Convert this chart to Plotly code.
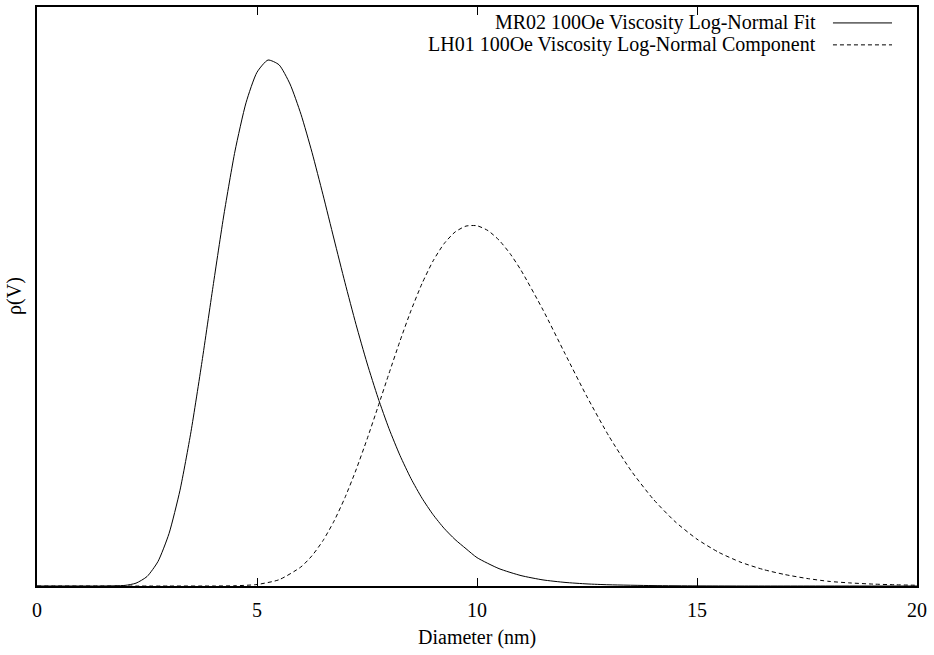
import plotly.graph_objects as go

# --- data (arbitrary units, y axis 0..1) ---
series_names = ["MR02 100Oe Viscosity Log-Normal Fit",
                "LH01 100Oe Viscosity Log-Normal Component"]

mr02_d = [0.0, 1.0, 1.5, 2.0, 2.25, 2.5, 2.75, 3.0, 3.25, 3.5, 3.75, 4.0, 4.25, 4.5, 4.75,
          5.0, 5.25, 5.5, 5.75, 6.0, 6.25, 6.5, 6.75, 7.0, 7.25, 7.5, 7.75, 8.0, 8.25,
          8.5, 8.75, 9.0, 9.25, 9.5, 9.75, 10.0, 10.5, 11.0, 11.5, 12.0, 12.5, 13.0,
          14.0, 15.0, 16.0, 18.0, 20.0]
mr02_v = [0.0, 0.0, 0.00001, 0.00105, 0.00488, 0.0163, 0.0424, 0.0905, 0.1654, 0.2666,
          0.3876, 0.5171, 0.6424, 0.7512, 0.8345, 0.8873, 0.9084, 0.9002, 0.8670,
          0.8146, 0.7490, 0.6757, 0.5993, 0.5238, 0.4518, 0.3852, 0.3251, 0.2718,
          0.2254, 0.1855, 0.1517, 0.1234, 0.0998, 0.0804, 0.0644, 0.0490, 0.0300,
          0.0180, 0.0105, 0.0062, 0.0036, 0.0021, 0.0007, 0.0002, 0.0, 0.0, 0.0]

lh01_d = [0.0, 3.0, 4.0, 4.5, 5.0, 5.5, 6.0, 6.25, 6.5, 6.75, 7.0, 7.25, 7.5, 7.75, 8.0,
          8.25, 8.5, 8.75, 9.0, 9.25, 9.5, 9.75, 10.0, 10.25, 10.5, 10.75, 11.0, 11.5,
          12.0, 12.5, 13.0, 13.5, 14.0, 14.5, 15.0, 15.5, 16.0, 16.5, 17.0, 17.5, 18.0,
          18.5, 19.0, 19.5, 20.0]
lh01_v = [0.0, 0.0, 0.00004, 0.00042, 0.0026, 0.0108, 0.0330, 0.0523, 0.0784, 0.1120,
          0.1528, 0.2004, 0.2533, 0.3096, 0.3671, 0.4232, 0.4757, 0.5223, 0.5612,
          0.5911, 0.6113, 0.6216, 0.6222, 0.6138, 0.5974, 0.5742, 0.5454, 0.4768,
          0.4013, 0.3268, 0.2586, 0.1994, 0.1505, 0.1113, 0.0809, 0.0579, 0.0409,
          0.0286, 0.0197, 0.0130, 0.0080, 0.0052, 0.0033, 0.0021, 0.0013]

x_ticks = [0, 5, 10, 15, 20]
x_title = "Diameter (nm)"
y_title = "ρ(V)"

FONT = "Liberation Serif, Times New Roman, serif"

fig = go.Figure()
fig.add_trace(go.Scatter(x=mr02_d, y=mr02_v, mode="lines", name=series_names[0],
                         line=dict(color="black", width=1, shape="spline", smoothing=0.6),
                         showlegend=False))
fig.add_trace(go.Scatter(x=lh01_d, y=lh01_v, mode="lines", name=series_names[1],
                         line=dict(color="black", width=1, dash="4px,3px",
                                   shape="spline", smoothing=0.6),
                         showlegend=False))

# gnuplot-style key: text right-aligned, sample line to the right
key_rows_y = [0.9725, 0.9346]
key_dash = ["solid", "4px,3px"]
for name, ky, dsh in zip(series_names, key_rows_y, key_dash):
    fig.add_annotation(text=name, xref="paper", yref="paper", x=0.8875, y=ky,
                       xanchor="right", yanchor="middle", showarrow=False,
                       font=dict(family=FONT, size=20, color="black"))
    fig.add_shape(type="line", xref="paper", yref="paper", x0=0.9045, x1=0.9716,
                  y0=ky, y1=ky, line=dict(color="black", width=1, dash=dsh))

fig.add_annotation(text=x_title, xref="paper", yref="paper", x=0.5, y=-0.0885,
                   xanchor="center", yanchor="middle", showarrow=False,
                   font=dict(family=FONT, size=20, color="black"))
fig.add_annotation(text=y_title, xref="paper", yref="paper", x=-0.025, y=0.501,
                   xanchor="center", yanchor="middle", showarrow=False, textangle=-90,
                   font=dict(family=FONT, size=20, color="black"))

fig.update_layout(
    width=934, height=655,
    margin=dict(l=37, r=17, t=5, b=69),
    paper_bgcolor="white", plot_bgcolor="white",
    font=dict(family=FONT, size=20, color="black"),
    xaxis=dict(range=[0, 20], tickvals=x_ticks, ticktext=[str(t) for t in x_ticks],
               ticks="inside", ticklen=8, tickwidth=1, tickcolor="black",
               ticklabelstandoff=5,
               showline=True, linecolor="black", linewidth=1.5, mirror="ticks",
               showgrid=False, zeroline=False,
               tickfont=dict(family=FONT, size=20, color="black")),
    yaxis=dict(range=[0, 1.0], showticklabels=False, ticks="",
               showline=True, linecolor="black", linewidth=1.5, mirror=True,
               showgrid=False, zeroline=False),
)

fig.write_html("out.html")
